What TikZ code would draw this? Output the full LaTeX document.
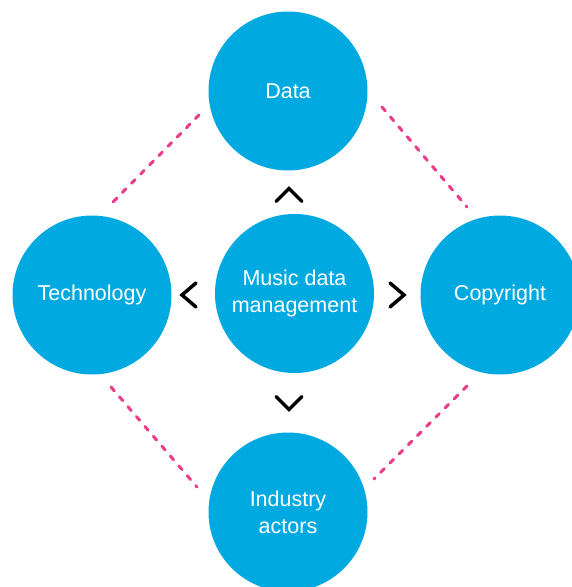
\documentclass[tikz,border=0pt]{standalone}
\usepackage{fontspec}
\setmainfont{Liberation Sans}
\definecolor{circblue}{RGB}{0,170,225}
\definecolor{dashpink}{RGB}{234,60,138}
\begin{document}
\begin{tikzpicture}[x=1pt,y=-1pt,
  topic/.style={circle, fill=circblue, minimum size=159pt, inner sep=0pt,
    text=white, align=center, font=\fontsize{21.5}{27}\selectfont},
  link/.style={draw=dashpink, line width=3pt, line cap=round, dash pattern=on 5pt off 8pt},
  chev/.style={draw=black, line width=3.5pt, line cap=round, line join=miter}
]
\useasboundingbox (0,0) rectangle (572,587);
\clip (0,0) rectangle (572,587);
\fill[white] (0,0) rectangle (572,587);

\node[topic] (data) at (288,91) {Data};
\node[topic] (tech) at (92,295) {Technology};
\node[topic] (copy) at (500,295) {Copyright};
\node[topic] (mdm) at (294.5,293.5) {Music data\\management};
\node[topic] (ind) at (288,512) {Industry\\actors};

% dashed links
\coordinate (tlA) at (199,115); \coordinate (tlB) at (108,207);
\coordinate (trA) at (382,107); \coordinate (trB) at (467,207);
\coordinate (blA) at (111,387); \coordinate (blB) at (197,487);
\coordinate (brA) at (467,386); \coordinate (brB) at (374,479);
\draw[link] (tlA) -- (tlB);
\draw[link] (trA) -- (trB);
\draw[link] (blA) -- (blB);
\draw[link] (brA) -- (brB);

% chevrons
\coordinate (up) at (289,195);
\coordinate (dn) at (289,403);
\coordinate (lf) at (189,295);
\coordinate (rt) at (397,295);
\draw[chev] ([shift={(-13,6.5)}]up) -- ([shift={(0,-6.5)}]up) -- ([shift={(13,6.5)}]up);
\draw[chev] ([shift={(-13,-6.5)}]dn) -- ([shift={(0,6.5)}]dn) -- ([shift={(13,-6.5)}]dn);
\draw[chev] ([shift={(7,-12)}]lf) -- ([shift={(-7,0)}]lf) -- ([shift={(7,12)}]lf);
\draw[chev] ([shift={(-7,-12)}]rt) -- ([shift={(7,0)}]rt) -- ([shift={(-7,12)}]rt);
\end{tikzpicture}
\end{document}
